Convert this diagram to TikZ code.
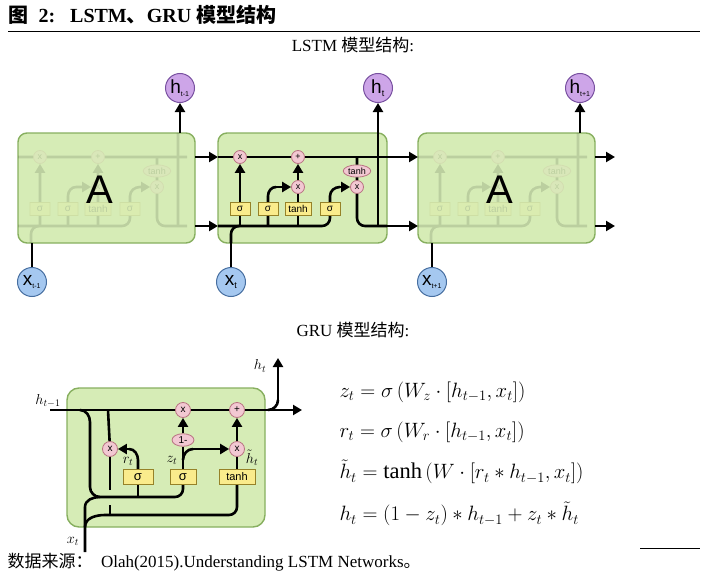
\documentclass[tikz,border=0pt]{standalone}
\usepackage{fontspec}
\setmainfont{Liberation Serif}
\newfontfamily\cjk{Noto Sans CJK SC}
\newfontfamily\sans{Liberation Sans}
\usetikzlibrary{arrows.meta,shapes.geometric}
\definecolor{cellfill}{RGB}{214,236,182}
\definecolor{celldraw}{RGB}{135,175,95}
\definecolor{pinkf}{RGB}{242,200,210}
\definecolor{pinkd}{RGB}{185,115,130}
\definecolor{yelf}{RGB}{250,236,140}
\definecolor{yeld}{RGB}{150,130,40}
\definecolor{purf}{RGB}{205,165,232}
\definecolor{purd}{RGB}{120,80,160}
\definecolor{bluf}{RGB}{165,200,240}
\definecolor{blud}{RGB}{70,110,160}
\tikzset{
 x=1pt,y=-1pt,
 ln/.style={line width=2.6pt,black},
 ar/.style={ln,-{Triangle[width=10pt,length=9pt]}},
 cell/.style={draw=celldraw,fill=cellfill,line width=1.4pt,rounded corners=9pt},
 op/.style={circle,draw=pinkd,fill=pinkf,line width=0.8pt,inner sep=0pt,minimum size=13pt,font=\sans\fontsize{9}{9}\selectfont},
 gate/.style={rectangle,draw=yeld,fill=yelf,line width=0.8pt,inner sep=1pt,minimum height=13pt,minimum width=20pt,font=\sans\fontsize{10}{10}\selectfont},
 ell/.style={ellipse,draw=pinkd,fill=pinkf,line width=0.8pt,inner sep=1pt,font=\sans\fontsize{9}{9}\selectfont},
 hc/.style={circle,draw=purd,fill=purf,line width=1pt,minimum size=29pt,inner sep=0pt,font=\sans\fontsize{19}{19}\selectfont},
 xc/.style={circle,draw=blud,fill=bluf,line width=1pt,minimum size=29pt,inner sep=0pt,font=\sans\fontsize{19}{19}\selectfont},
}
\newcommand\lstminner[1]{%
 \draw[ln] (218,226) -- (322,226) to[out=0,in=-90] (330,218) -- (330,196) to[out=90,in=180] (340,187);
 \node[op] (#1m1) at (240,157) {x};
 \node[op] (#1p) at (298,157) {+};
 \node[op] (#1m2) at (298,187) {x};
 \node[ell] (#1th) at (357,171) {tanh};
 \node[op] (#1m3) at (357,187) {x};
 \draw[ar] (340,187) -- (#1m3);
 \draw[ln] (218,157) -- (#1m1) -- (#1p) -- (387,157);
 \draw[ln] (240,226) -- (240,209);
 \draw[ar] (240,209) -- (#1m1);
 \draw[ln] (268,226) -- (268,196) to[out=90,in=180] (276,187);
 \draw[ar] (276,187) -- (#1m2);
 \draw[ln] (298,226) -- (#1m2);
 \draw[ar] (#1m2) -- (#1p);
 \draw[ln] (357,157) -- (#1th) -- (#1m3) -- (357,218) to[out=-90,in=180] (365,226) -- (387,226);
 \draw[ln] (378,226) -- (378,133);
 \draw[ln] (231,243) -- (231,234) to[out=90,in=180] (239,226);
 \node[gate] (#1g1) at (240,209) {σ};
 \node[gate] (#1g2) at (268,209) {σ};
 \node[gate,minimum width=26pt] (#1g3) at (298,209) {tanh};
 \node[gate] (#1g4) at (330,209) {σ};
}
\begin{document}
\begin{tikzpicture}
\useasboundingbox (0,0) rectangle (707,578);
\node[anchor=west,font=\bfseries\fontsize{20}{20}\selectfont] (title) at (5,15) {{\cjk\bfseries 图}\ \ 2:\ \ \ LSTM{\cjk\bfseries 、}GRU {\cjk\bfseries 模型结构}};
\draw[line width=0.8pt] (8,31) -- (700,31);
\node[font=\fontsize{17}{17}\selectfont] (lt) at (353,45) {LSTM {\cjk 模型结构}:};
\node[cell,minimum width=177pt,minimum height=110pt] (cL) at (106.5,188) {};
\node[cell,minimum width=169pt,minimum height=110pt] (cM) at (302.5,188) {};
\node[cell,minimum width=177pt,minimum height=110pt] (cR) at (506.5,188) {};
\begin{scope}[opacity=0.12,transparency group]
 \begin{scope}[xshift=-200pt]\lstminner{L}\end{scope}
 \begin{scope}[xshift=200pt]\lstminner{R}\end{scope}
\end{scope}
\lstminner{M}
\node[font=\sans\fontsize{40}{40}\selectfont] (aL) at (100,190) {A};
\node[font=\sans\fontsize{40}{40}\selectfont] (aR) at (500,190) {A};
\node[hc] (h0) at (180,88) {h\textsubscript{\fontsize{7}{7}\selectfont t-1}};
\node[hc] (h1) at (378,88) {h\textsubscript{\fontsize{9}{9}\selectfont t}};
\node[hc] (h2) at (580,88) {h\textsubscript{\fontsize{7}{7}\selectfont t+1}};
\node[xc] (x0) at (32,282) {x\textsubscript{\fontsize{7}{7}\selectfont t-1}};
\node[xc] (x1) at (231,282) {x\textsubscript{\fontsize{9}{9}\selectfont t}};
\node[xc] (x2) at (432,282) {x\textsubscript{\fontsize{7}{7}\selectfont t+1}};
\draw[ar] (180,133) -- (h0);
\draw[ar] (378,133) -- (h1);
\draw[ar] (580,133) -- (h2);
\draw[ln] (x0) -- (32,243);
\draw[ln] (x1) -- (231,243);
\draw[ln] (x2) -- (432,243);
\draw[ar] (195,157) -- (218,157);
\draw[ar] (195,226) -- (218,226);
\draw[ar] (387,157) -- (418,157);
\draw[ar] (387,226) -- (418,226);
\draw[ar] (595,157) -- (615,157);
\draw[ar] (595,226) -- (615,226);
% GRU
\node[font=\fontsize{17}{17}\selectfont] (gt) at (353,330) {GRU {\cjk 模型结构}:};
\node[cell,minimum width=198pt,minimum height=139pt,rounded corners=12pt] (gc) at (166,457.5) {};
\node[op,minimum size=15pt,font=\sans\fontsize{10}{10}\selectfont] (gx1) at (183,410) {x};
\node[op,minimum size=15pt,font=\sans\fontsize{10}{10}\selectfont] (gp) at (237,410) {+};
\node[ell,minimum width=22pt,font=\sans\fontsize{10}{10}\selectfont] (gone) at (183,440) {1-};
\node[op,minimum size=15pt,font=\sans\fontsize{10}{10}\selectfont] (gx0) at (110,449) {x};
\node[op,minimum size=15pt,font=\sans\fontsize{10}{10}\selectfont] (gx2) at (237,449) {x};
\coordinate (hin) at (50,410);
\draw[ln] (hin) -- (gx1) -- (gp);
\draw[ar] (gp) -- (302,410);
\draw[ln] (268,410) to[out=0,in=-90] (278,400);
\draw[ar] (278,400) -- (278,358);
\draw[ln] (80,410) to[out=0,in=90] (90,422) -- (90,487) to[out=-90,in=180] (100,497) -- (175,497) to[out=0,in=-90] (183,489) -- (183,477);
\draw[ln] (138,497) -- (138,477);
\draw[ln] (108,410) -- (gx0);
\draw[ln] (gx0) -- (110,490);
\draw[ln] (110,505) -- (110,515);
\draw[ln] (138,477) -- (138,460) to[out=90,in=0] (129,449);
\draw[ar] (129,449) -- (gx0);
\draw[ln] (183,477) -- (gone);
\draw[ar] (gone) -- (gx1);
\draw[ln] (183,460) to[out=90,in=180] (193,449);
\draw[ar] (193,449) -- (gx2);
\draw[ar] (gx2) -- (gp);
\draw[ln] (237,477) -- (gx2);
\coordinate (xin) at (85,552);
\draw[ln] (xin) -- (85,507) to[out=90,in=180] (100,497);
\draw[ln] (85,527) to[out=90,in=180] (105,515) -- (229,515) to[out=0,in=-90] (237,507) -- (237,477);
\node[gate,minimum width=30pt,minimum height=15pt,font=\sans\fontsize{13}{13}\selectfont] (gr) at (138,477) {σ};
\node[gate,minimum width=26pt,minimum height=15pt,font=\sans\fontsize{13}{13}\selectfont] (gz) at (183,477) {σ};
\node[gate,minimum width=36pt,minimum height=15pt,font=\sans\fontsize{11}{11}\selectfont] (gth) at (237,477) {tanh};
\node[font=\fontsize{14}{14}\selectfont] (lr) at (128,461) {$r_t$};
\node[font=\fontsize{14}{14}\selectfont] (lz) at (172,460) {$z_t$};
\node[font=\fontsize{14}{14}\selectfont] (lh) at (252,458) {$\tilde h_t$};
\node[font=\fontsize{14}{14}\selectfont] (lhin) at (48,401) {$h_{t-1}$};
\node[font=\fontsize{14}{14}\selectfont] (lhout) at (260,366) {$h_t$};
\node[font=\fontsize{14}{14}\selectfont] (lxt) at (73,541) {$x_t$};
\begin{scope}[font=\fontsize{22.5}{22.5}\selectfont]
\node[anchor=west] (e1) at (336,392) {$z_t = \sigma\left(W_z\cdot[h_{t-1},x_t]\right)$};
\node[anchor=west] (e2) at (336,432) {$r_t = \sigma\left(W_r\cdot[h_{t-1},x_t]\right)$};
\node[anchor=west] (e3) at (336,472) {$\tilde h_t = \tanh\left(W\cdot[r_t * h_{t-1},x_t]\right)$};
\node[anchor=west] (e4) at (336,514) {$h_t = (1-z_t) * h_{t-1} + z_t * \tilde h_t$};
\end{scope}
\draw[line width=0.8pt] (640,548) -- (700,548);
\node[anchor=west,font=\fontsize{17}{17}\selectfont] (src) at (4,562) {{\cjk 数据来源：}\ \ Olah(2015).Understanding LSTM Networks{\cjk 。}};
\end{tikzpicture}
\end{document}
